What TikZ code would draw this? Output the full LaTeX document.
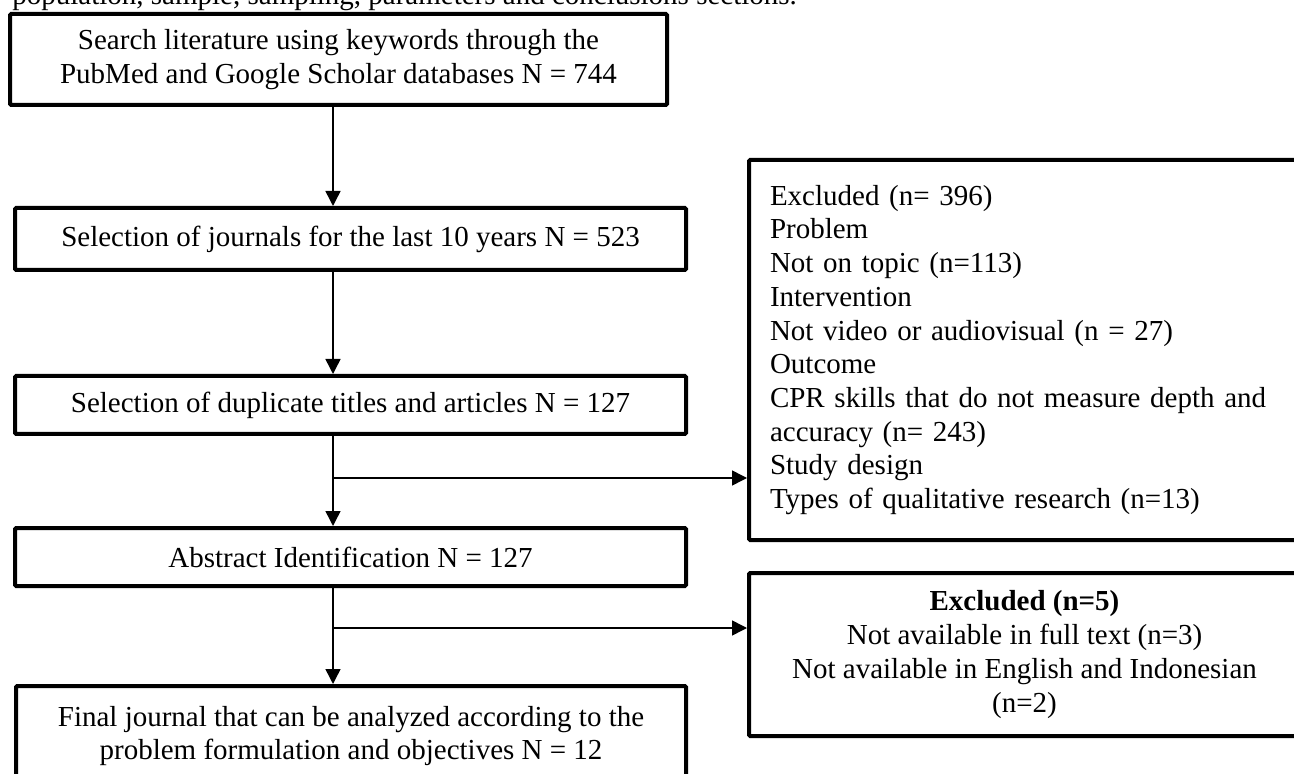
\documentclass[tikz,border=0pt]{standalone}
\usepackage{fontspec}
\setmainfont{Liberation Serif}
\usetikzlibrary{arrows.meta}

\begin{document}
\begin{tikzpicture}[
    x=0.5pt, y=-0.5pt,
    every node/.style={font=\fontsize{14.5}{16.85}\selectfont},
    stage/.style={draw, line width=2pt, rounded corners=0.6pt, align=center, inner sep=0pt},
    flow/.style={line width=0.75pt, -{Triangle[length=7.5pt,width=7.5pt]}},
  ]
  \useasboundingbox (0,0) rectangle (1294,774);
  \clip (0,0) rectangle (1294,774);
  % cut-off line above the chart
  \node[anchor=base west, inner sep=0pt] (caption) at (12,5)
    {population, sample, sampling, parameters and conclusions sections.};
  % Main stages
  \node[stage, minimum width=328.5pt, minimum height=45.5pt] (search) at (338.5,59.5)
    {Search literature using keywords through the\\PubMed and Google Scholar databases N = 744};
  \node[stage, minimum width=335.5pt, minimum height=31pt] (select) at (350.5,239)
    {Selection of journals for the last 10 years N = 523};
  \node[stage, minimum width=335.5pt, minimum height=29pt] (dup) at (350.5,405)
    {Selection of duplicate titles and articles N = 127};
  \node[stage, minimum width=335.5pt, minimum height=29pt] (abstract) at (350.5,557)
    {Abstract Identification N = 127};
  \node[stage, minimum width=335pt, minimum height=50pt] (final) at (351,736)
    {Final journal that can be analyzed according to the\\problem formulation and objectives N = 12};
  % Excluded boxes
  \node[stage, align=left, text width=254.5pt, inner xsep=10.5pt, minimum height=190pt] (excl1) at (1024.5,350)
    {Excluded (n= 396)\\Problem\\Not on topic (n=113)\\Intervention\\Not video or audiovisual (n = 27)\\Outcome\\CPR skills that do not measure depth and\\accuracy (n= 243)\\Study design\\Types of qualitative research (n=13)};
  \node[stage, minimum width=275.5pt, minimum height=81.5pt] (excl2) at (1024.5,654.5)
    {\textbf{Excluded (n=5)}\\Not available in full text (n=3)\\Not available in English and Indonesian\\(n=2)};
  % Connectors
  \coordinate (spine) at (333,0);
  \draw[flow] (search.south -| spine) -- (select.north -| spine);
  \draw[flow] (select.south -| spine) -- (dup.north -| spine);
  \draw[flow] (dup.south -| spine) -- (abstract.north -| spine);
  \draw[flow] (abstract.south -| spine) -- (final.north -| spine);
  \coordinate (cut1) at (333,478);
  \coordinate (cut2) at (333,628);
  \draw[flow] (cut1) -- (cut1 -| excl1.west);
  \draw[flow] (cut2) -- (cut2 -| excl2.west);
\end{tikzpicture}
\end{document}
